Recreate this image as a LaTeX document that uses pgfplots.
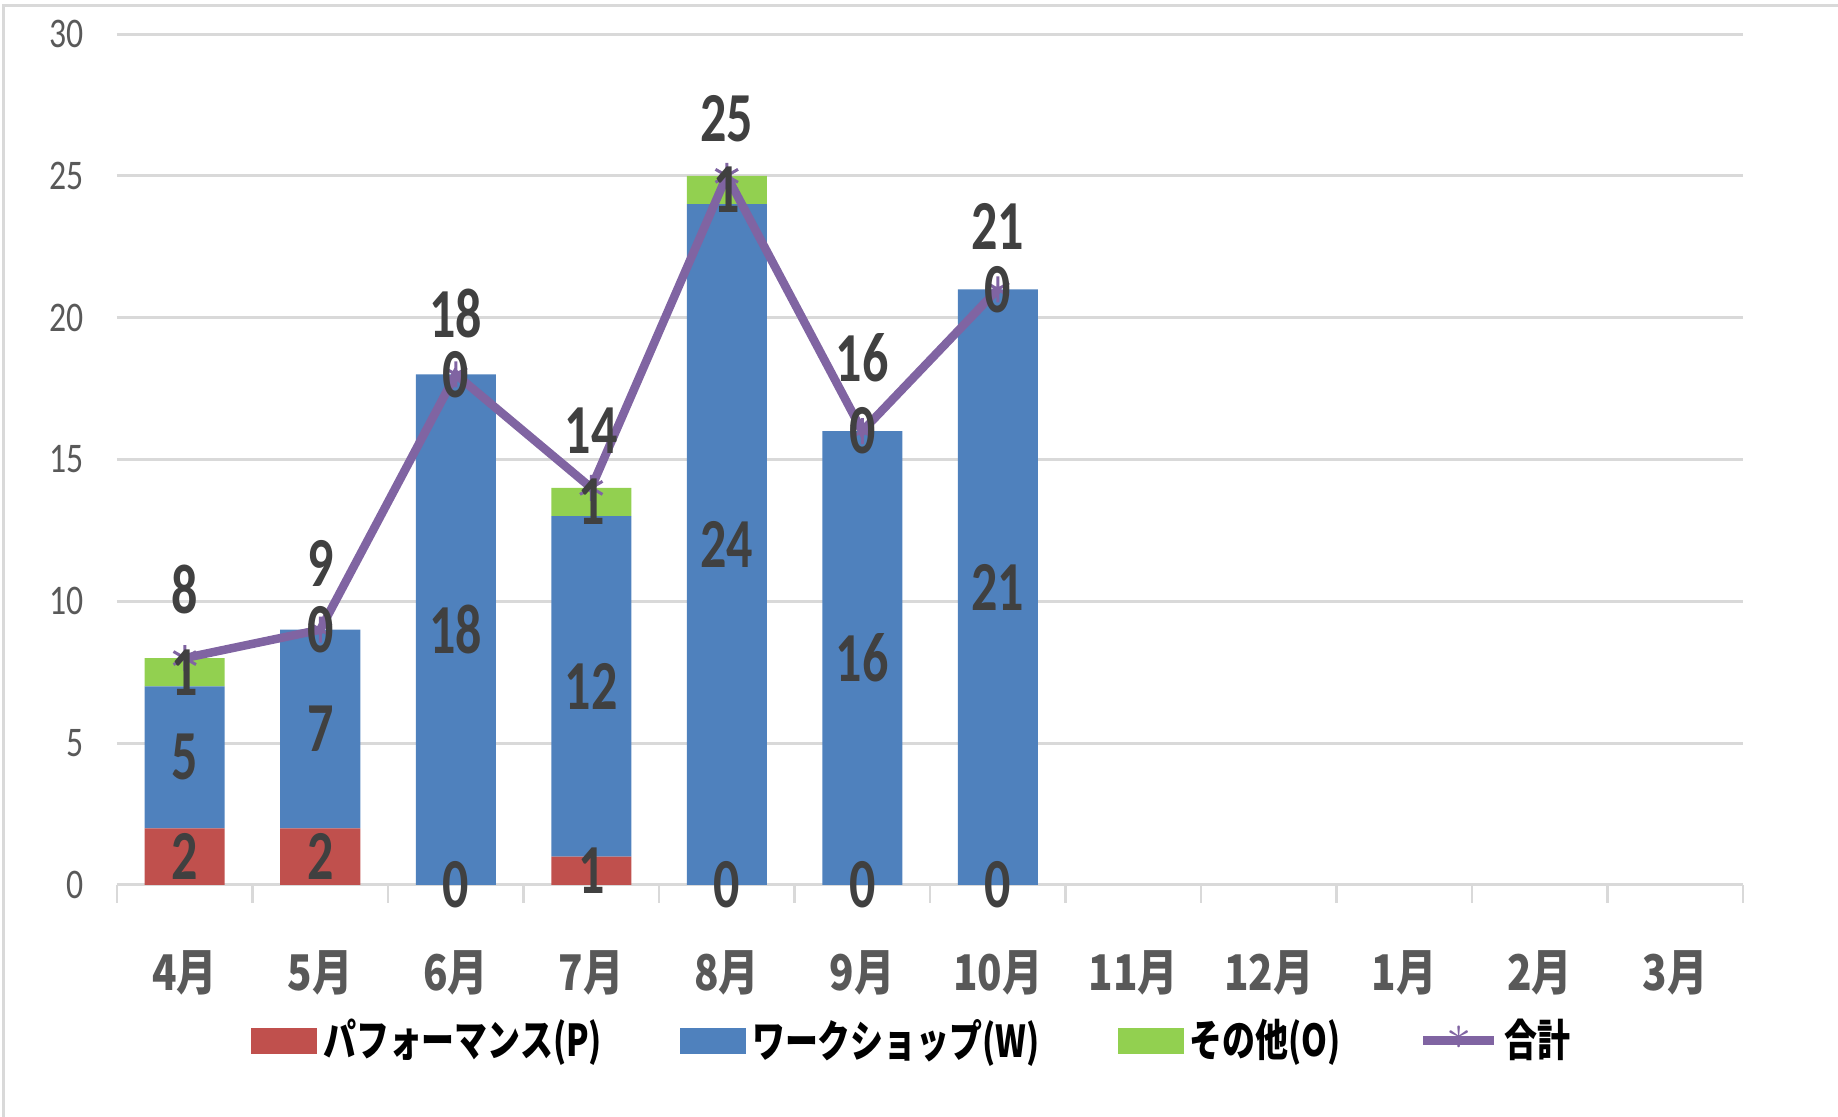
\documentclass[border=0pt]{standalone}
\usepackage{pgfplots}
\pgfplotsset{compat=1.18}
\usepackage{fontspec}
\setmainfont{Carlito}
\newfontfamily\jp{Noto Sans CJK JP}
\definecolor{cP}{HTML}{C0504D}
\definecolor{cW}{HTML}{4F81BD}
\definecolor{cO}{HTML}{92D050}
\definecolor{cT}{HTML}{8064A2}
\definecolor{cGrid}{HTML}{D9D9D9}
\definecolor{cTxt}{HTML}{595959}
\definecolor{cLab}{HTML}{404040}
\newcommand\mlab[1]{\scalebox{0.82}[1]{\fontsize{14pt}{14pt}\selectfont\jp\bfseries #1月}}
\newcommand\yl[1]{\scalebox{0.8}[1]{\fontsize{12pt}{12pt}\selectfont #1}}
\newcommand\lgt[1]{\scalebox{0.75}[1]{\fontsize{12.5pt}{12.5pt}\selectfont\jp\bfseries #1}}
\pgfplotsset{
  common/.style={
    scale only axis, width=162.6mm, height=85.1mm,
    at={(11.7mm,23.2mm)}, anchor=south west,
    xmin=-0.5, xmax=11.5, ymin=0, ymax=30,
  },
  lab/.style={only marks, mark=none, point meta=explicit, nodes near coords={\scalebox{0.74}[1]{\pgfmathprintnumber[assume math mode=true]{\pgfplotspointmeta}}},
    every node near coord/.append style={font=\fontsize{20pt}{20pt}\selectfont\bfseries, text=cLab, anchor=center, inner sep=0pt}},
}
\begin{document}
\begin{tikzpicture}
\path[use as bounding box] (0,0) rectangle (183.8mm,111.7mm);
\draw[cGrid, line width=0.3mm] (0.4mm,0) -- (0.4mm,111.1mm) -- (183.8mm,111.1mm);
\begin{axis}[common,
  ybar stacked, bar width=8mm,
  axis x line*=bottom, axis y line*=left,
  x axis line style={draw=cGrid, line width=0.3mm, -},
  y axis line style={draw=none},
  ytick={0,5,...,30},
  yticklabels={\yl{0},\yl{5},\yl{10},\yl{15},\yl{20},\yl{25},\yl{30}},
  ytick style={draw=none},
  yticklabel style={text=cTxt, inner sep=0pt, xshift=-3.3mm},
  ymajorgrids, grid style={draw=cGrid, line width=0.3mm},
  xtick={0,...,11},
  xticklabels={\mlab{4},\mlab{5},\mlab{6},\mlab{7},\mlab{8},\mlab{9},\mlab{10},\mlab{11},\mlab{12},\mlab{1},\mlab{2},\mlab{3}},
  major x tick style={draw=none},
  minor xtick={-0.5,0.5,...,11.5},
  minor x tick style={draw=cGrid, line width=0.25mm},
  minor tick length=1.8mm,
  xtick align=outside,
  xticklabel style={text=cTxt, anchor=center, inner sep=0pt, yshift=-7.3mm},
  legend columns=4,
  legend style={at={(0.490,-0.183)}, anchor=center, draw=none, fill=none,
    /tikz/every even column/.append style={column sep=7.2mm},
    /tikz/column 6/.append style={column sep=5.2mm},
    nodes={inner sep=0.6mm}},
]
\addplot[fill=cP, draw=none, legend image code/.code={\fill[cP] (0,-1.3mm) rectangle (6.6mm,1.3mm);}] coordinates {(0,2) (1,2) (2,0) (3,1) (4,0) (5,0) (6,0)};
\addplot[fill=cW, draw=none, legend image code/.code={\fill[cW] (0,-1.3mm) rectangle (6.6mm,1.3mm);}] coordinates {(0,5) (1,7) (2,18) (3,12) (4,24) (5,16) (6,21)};
\addplot[fill=cO, draw=none, legend image code/.code={\fill[cO] (0,-1.3mm) rectangle (6.6mm,1.3mm);}] coordinates {(0,1) (1,0) (2,0) (3,1) (4,1) (5,0) (6,0)};
\addlegendimage{legend image code/.code={\draw[cT, line width=0.85mm] (0,0) -- (7.1mm,0); \node[cT, inner sep=0pt, font=\fontsize{14pt}{14pt}\selectfont] at (3.55mm,0) {$\ast$};}}
\legend{\lgt{パフォーマンス(P)},\lgt{ワークショップ(W)},\lgt{その他(O)},\lgt{合計}}
\end{axis}
\begin{axis}[common, hide axis]
\addplot[cT, line width=0.85mm, mark=asterisk, mark size=1.3mm, mark options={line width=0.3mm}] coordinates {(0,8) (1,9) (2,18) (3,14) (4,25) (5,16) (6,21)};
\addplot[lab] table[meta index=2] {
0 1 2
1 1 2
2 0 0
3 0.5 1
4 0 0
5 0 0
6 0 0
};
\addplot[lab] table[meta index=2] {
0 4.5 5
1 5.5 7
2 9 18
3 7 12
4 12 24
5 8 16
6 10.5 21
};
\addplot[lab] table[meta index=2] {
0 7.5 1
1 9 0
2 18 0
3 13.5 1
4 24.5 1
5 16 0
6 21 0
};
\addplot[lab] table[meta index=2] {
0 10.4 8
1 11.35 9
2 20.15 18
3 16 14
4 27 25
5 18.6 16
6 23.2 21
};
\end{axis}
\end{tikzpicture}
\end{document}
